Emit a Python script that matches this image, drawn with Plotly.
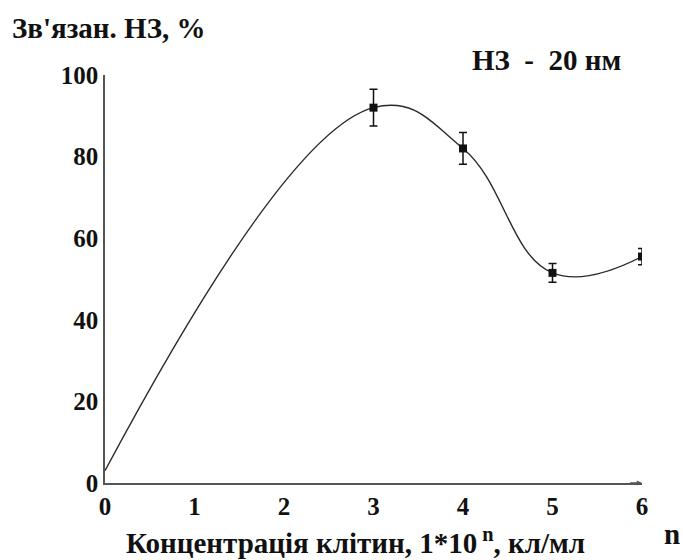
import plotly.graph_objects as go

# Concentration exponent n (cells/ml = 1*10^n) and bound NZ, %
conc_n = [0, 3, 4, 5, 6]
bound_pct = [3, 92, 82, 51.5, 55.5]
# measured points with standard error
meas_n = [3, 4, 5, 6]
meas_pct = [92, 82, 51.5, 55.5]
meas_err = [4.5, 3.9, 2.3, 2.0]

x_ticks = [0, 1, 2, 3, 4, 5, 6]
y_ticks = [0, 20, 40, 60, 80, 100]

FONT = "Liberation Serif"

fig = go.Figure()

# smoothed response curve
fig.add_trace(go.Scatter(
    x=conc_n, y=bound_pct, mode="lines",
    line=dict(color="#2a2a2a", width=1.4, shape="spline", smoothing=1.2),
    hoverinfo="skip", showlegend=False,
))

# measured means with error bars
fig.add_trace(go.Scatter(
    x=meas_n, y=meas_pct, mode="markers",
    marker=dict(symbol="square", size=8, color="#111111"),
    error_y=dict(type="data", array=meas_err, visible=True,
                 color="#111111", thickness=1.5, width=4),
    showlegend=False,
))

fig.update_xaxes(
    range=[0, 6], tickvals=x_ticks,
    ticktext=[f"<b>{v}</b>" for v in x_ticks],
    showgrid=False, zeroline=False, showline=True, linecolor="#555555",
    linewidth=1.5, ticks="", ticklen=0,
    tickfont=dict(family=FONT, size=25, color="#111111"),
)
fig.update_yaxes(
    range=[0, 100], tickvals=y_ticks,
    ticktext=[f"<b>{v}</b>" for v in y_ticks],
    showgrid=False, zeroline=False, showline=True, linecolor="#555555",
    linewidth=1.5, ticks="", ticklen=0,
    tickfont=dict(family=FONT, size=25, color="#111111"),
)

annotations = [
    dict(text="<b>Зв'язан. НЗ, %</b>", xref="paper", yref="paper",
         x=-0.177, y=1.115, xanchor="left", yanchor="middle",
         showarrow=False, font=dict(family=FONT, size=29, color="#111111")),
    dict(text="<b>НЗ  -  20 нм</b>", xref="paper", yref="paper",
         x=0.823, y=1.037, xanchor="center", yanchor="middle",
         showarrow=False, font=dict(family=FONT, size=29, color="#111111")),
    dict(text="<b>Концентрація клітин, 1*10<sup> n</sup>, кл/мл</b>",
         xref="paper", yref="paper", x=0.467, y=-0.143,
         xanchor="center", yanchor="middle", showarrow=False,
         font=dict(family=FONT, size=29, color="#111111")),
    dict(text="<b>n</b>", xref="paper", yref="paper",
         x=1.056, y=-0.125, xanchor="center", yanchor="middle",
         showarrow=False, font=dict(family=FONT, size=29, color="#111111")),
    # small arrow head at the end of the x axis
    dict(x=6, y=0, xref="x", yref="y", ax=5.85, ay=0, axref="x", ayref="y",
         text="", showarrow=True, arrowhead=2, arrowsize=0.8,
         arrowwidth=1.3, arrowcolor="#555555"),
]

fig.update_layout(
    width=683, height=560,
    margin=dict(l=105, r=41, t=75, b=77),
    paper_bgcolor="white", plot_bgcolor="white",
    annotations=annotations,
    showlegend=False,
)

fig.write_html("out.html")
